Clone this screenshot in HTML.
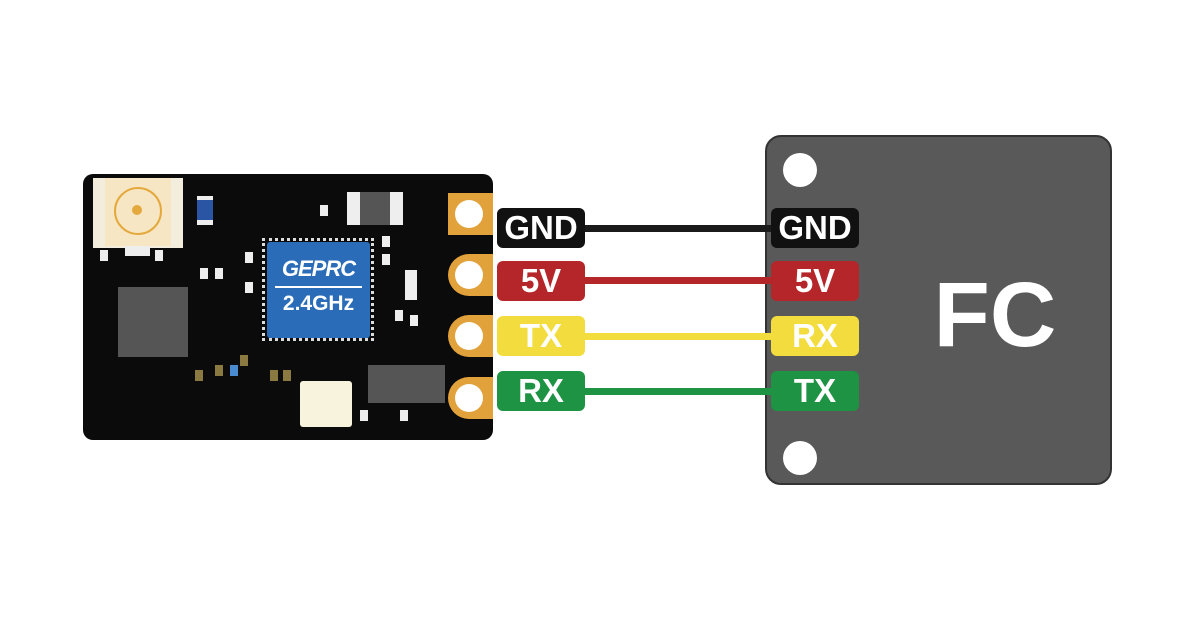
<!DOCTYPE html>
<html><head><style>
body{margin:0;width:1200px;height:639px;background:#fff;position:relative;overflow:hidden;font-family:"Liberation Sans","DejaVu Sans",sans-serif}
.a{position:absolute}
.lab{position:absolute;width:88px;height:40px;border-radius:6px;color:#fff;font-weight:bold;font-size:33px;line-height:40px;text-align:center;letter-spacing:0}
.w{position:absolute;height:7px;left:585px;width:190px}
.c{position:absolute;background:#eee;width:8px;height:11px}
</style></head><body>
<!-- board -->
<div class="a" style="left:83px;top:174px;width:410px;height:266px;background:#0b0b0b;border-radius:10px"></div>
<!-- antenna -->
<div class="a" style="left:93px;top:178px;width:90px;height:70px;background:#f3eddd"></div>
<div class="a" style="left:105px;top:178px;width:66px;height:68px;background:#f6e6c4"></div>
<div class="a" style="left:114px;top:187px;width:44px;height:44px;border:2px solid #e4a93c;border-radius:50%"></div>
<div class="a" style="left:132px;top:205px;width:10px;height:10px;background:#e4a93c;border-radius:50%"></div>
<div class="a" style="left:125px;top:246px;width:25px;height:10px;background:#eee"></div>
<div class="a" style="left:197px;top:196px;width:16px;height:29px;background:#eee"></div>
<div class="a" style="left:197px;top:200px;width:16px;height:20px;background:#2a55a5"></div>
<!-- gray chip -->
<div class="a" style="left:118px;top:287px;width:70px;height:70px;background:#555"></div>
<!-- blue chip -->
<div class="a" style="left:262px;top:238px;width:112px;height:103px;border:3px dotted #ddd;box-sizing:border-box"></div>
<div class="a" style="left:267px;top:242px;width:103px;height:96px;background:#2b6cb8;border-radius:3px;color:#fff;text-align:center;font-weight:bold">
<div style="font-size:22px;font-style:italic;margin-top:14px;letter-spacing:-1px">GEPRC</div>
<div style="height:2px;background:#fff;margin:4px 8px"></div>
<div style="font-size:21px;margin-top:4px">2.4GHz</div></div>
<!-- misc parts -->
<div class="a" style="left:347px;top:192px;width:56px;height:33px;background:#eee"></div>
<div class="a" style="left:360px;top:192px;width:30px;height:33px;background:#555"></div>
<div class="a" style="left:368px;top:365px;width:77px;height:38px;background:#555"></div>
<div class="a" style="left:300px;top:381px;width:52px;height:46px;background:#f8f3dc;border-radius:3px"></div>
<div class="c" style="left:320px;top:205px"></div><div class="c" style="left:100px;top:250px"></div><div class="c" style="left:155px;top:250px"></div>
<div class="c" style="left:200px;top:268px"></div><div class="c" style="left:215px;top:268px"></div><div class="c" style="left:245px;top:252px"></div>
<div class="c" style="left:245px;top:282px"></div><div class="c" style="left:382px;top:236px"></div><div class="c" style="left:382px;top:254px"></div>
<div class="c" style="left:405px;top:270px;height:30px;width:12px"></div><div class="c" style="left:395px;top:310px"></div><div class="c" style="left:410px;top:315px"></div>
<div class="c" style="left:240px;top:355px;background:#8a7a40"></div><div class="c" style="left:215px;top:365px;background:#8a7a40"></div><div class="c" style="left:230px;top:365px;background:#4a8ad0"></div>
<div class="c" style="left:195px;top:370px;background:#8a7a40"></div><div class="c" style="left:270px;top:370px;background:#8a7a40"></div><div class="c" style="left:283px;top:370px;background:#8a7a40"></div>
<div class="c" style="left:360px;top:410px"></div><div class="c" style="left:400px;top:410px"></div>
<!-- pads -->
<div class="a" style="left:448px;top:193px;width:45px;height:42px;background:#e2a23b"></div>
<div class="a" style="left:448px;top:254px;width:45px;height:42px;background:#e2a23b;border-radius:21px 0 0 21px"></div>
<div class="a" style="left:448px;top:315px;width:45px;height:42px;background:#e2a23b;border-radius:21px 0 0 21px"></div>
<div class="a" style="left:448px;top:377px;width:45px;height:42px;background:#e2a23b;border-radius:21px 0 0 21px"></div>
<div class="a" style="left:455px;top:200px;width:28px;height:28px;background:#fff;border-radius:50%"></div>
<div class="a" style="left:455px;top:261px;width:28px;height:28px;background:#fff;border-radius:50%"></div>
<div class="a" style="left:455px;top:322px;width:28px;height:28px;background:#fff;border-radius:50%"></div>
<div class="a" style="left:455px;top:384px;width:28px;height:28px;background:#fff;border-radius:50%"></div>
<!-- FC -->
<div class="a" style="left:765px;top:135px;width:347px;height:350px;background:#595959;border:2px solid #333;border-radius:16px;box-sizing:border-box"></div>
<div class="a" style="left:783px;top:153px;width:34px;height:34px;background:#fff;border-radius:50%"></div>
<div class="a" style="left:783px;top:441px;width:34px;height:34px;background:#fff;border-radius:50%"></div>
<div class="a" style="left:920px;top:260px;width:150px;text-align:center;color:#fff;font-weight:bold;font-size:92px;line-height:110px">FC</div>
<!-- wires -->
<div class="w" style="top:225px;background:#1a1a1a"></div>
<div class="w" style="top:277px;background:#b5262b"></div>
<div class="w" style="top:333px;background:#f2dc3e"></div>
<div class="w" style="top:388px;background:#1d9343"></div>
<!-- labels -->
<div class="lab" style="left:497px;top:208px;background:#111">GND</div>
<div class="lab" style="left:497px;top:261px;background:#b5262b">5V</div>
<div class="lab" style="left:497px;top:316px;background:#f2dc3e">TX</div>
<div class="lab" style="left:497px;top:371px;background:#1d9343">RX</div>
<div class="lab" style="left:771px;top:208px;background:#111">GND</div>
<div class="lab" style="left:771px;top:261px;background:#b5262b">5V</div>
<div class="lab" style="left:771px;top:316px;background:#f2dc3e">RX</div>
<div class="lab" style="left:771px;top:371px;background:#1d9343">TX</div>
</body></html>
